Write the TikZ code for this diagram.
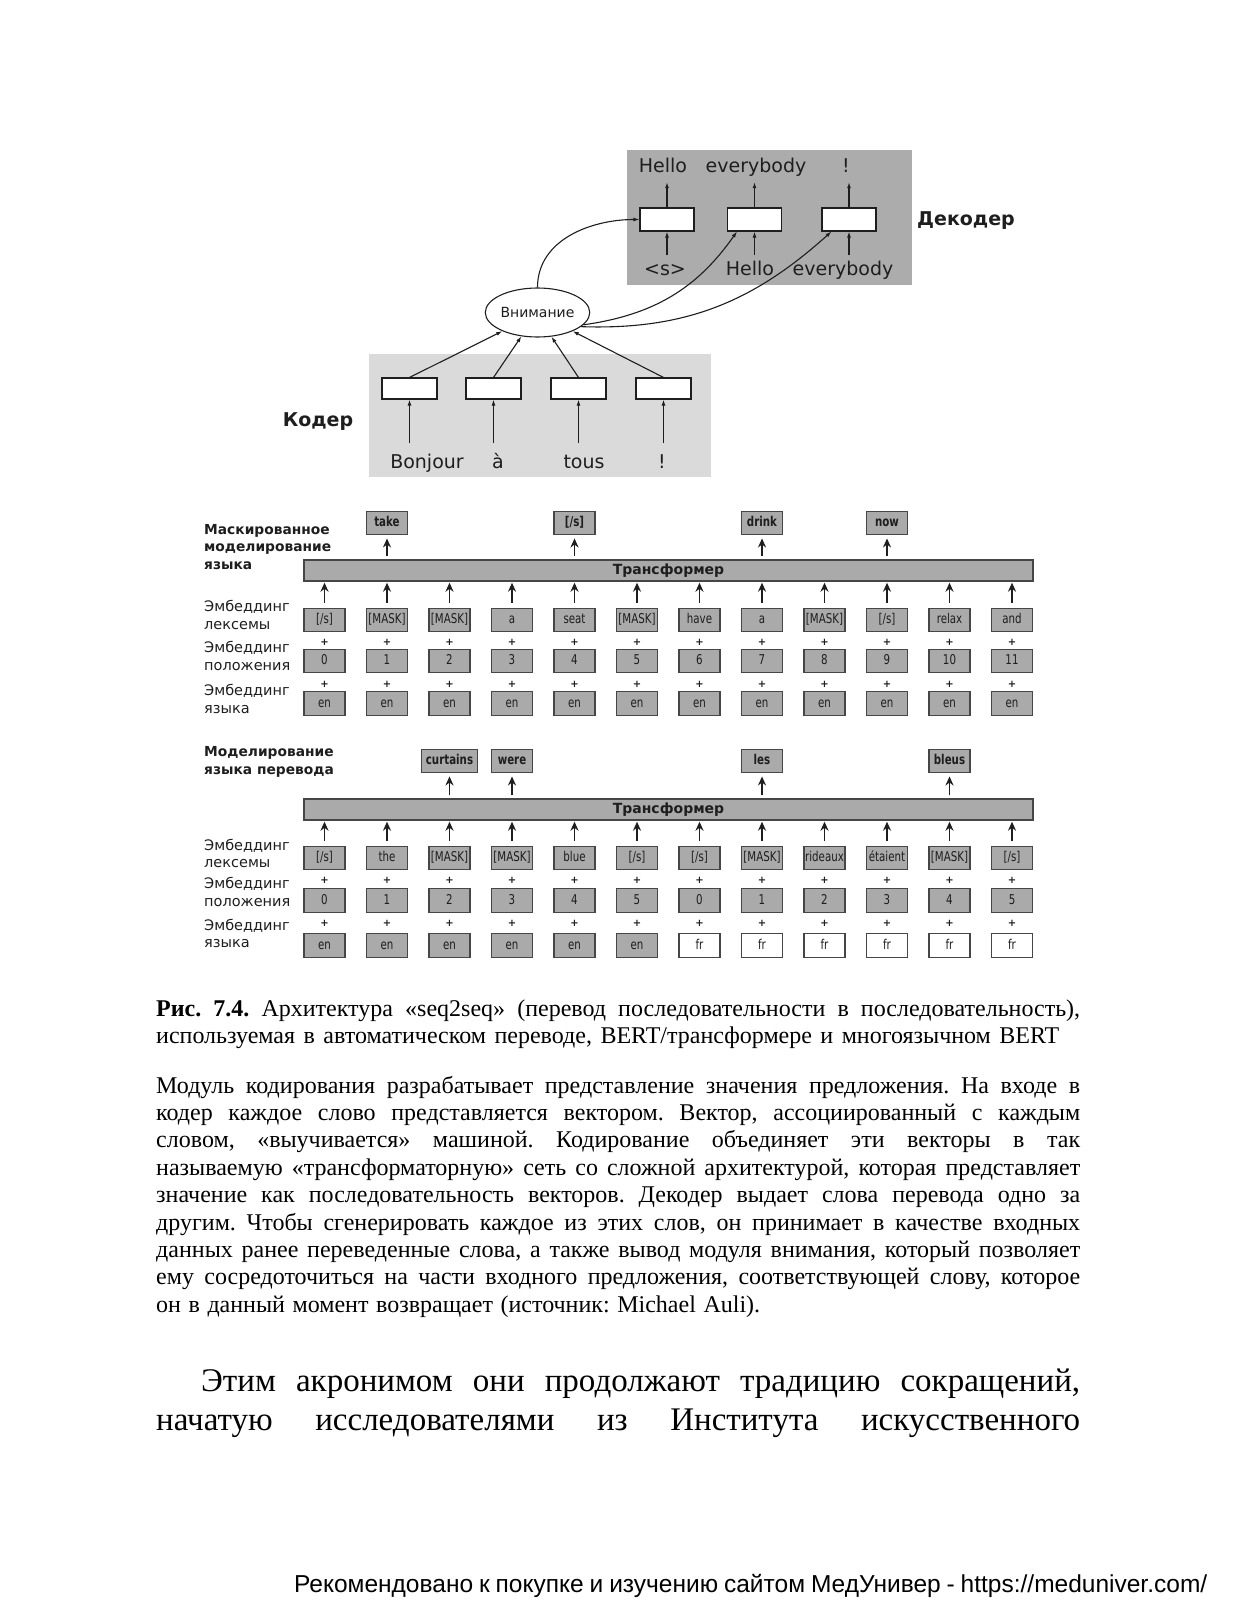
\documentclass[tikz,border=0pt]{standalone}
\usepackage{fontspec}
\setmainfont{Liberation Serif}
\newfontfamily\dvs{DejaVu Sans}
\newfontfamily\dvsc[FakeStretch=0.76]{DejaVu Sans}
\newfontfamily\footfont{Liberation Sans}
\usetikzlibrary{arrows.meta,shapes.geometric,calc}
\definecolor{decgray}{RGB}{172,172,172}
\definecolor{encgray}{RGB}{218,218,218}
\definecolor{boxgray}{RGB}{170,170,170}
\definecolor{boxline}{RGB}{70,70,70}
\definecolor{ink}{RGB}{30,30,30}
\frenchspacing
\begin{document}
\begin{tikzpicture}[x=1pt,y=-1pt,
 dtext/.style={font=\dvs\fontsize{19}{22}\selectfont, text=ink, inner sep=2pt, text height=14pt, text depth=4pt, anchor=base},
 lbl/.style={font=\dvs\fontsize{19}{22}\selectfont\bfseries, text=ink, inner sep=0pt, anchor=base},
 rnn/.style={draw=ink, fill=white, line width=1.1pt, minimum width=54pt, minimum height=23pt, inner sep=0pt},
 thin/.style={draw=ink, line width=1.1pt, -{Latex[length=6pt,width=4pt]}},
 emb/.style={draw=boxline, fill=boxgray, line width=1.4pt, minimum width=41pt, minimum height=23.5pt, inner sep=0pt, text height=9.5pt, text depth=2.5pt, font=\dvsc\fontsize{13.5}{15}\selectfont, text=ink},
 outb/.style={emb, font=\dvsc\fontsize{13.5}{15}\selectfont\bfseries},
 bar/.style={draw=boxline, fill=boxgray, line width=1.4pt, minimum width=729pt, minimum height=21pt, inner sep=0pt, font=\dvs\fontsize{14}{16}\selectfont\bfseries, text=ink},
 arr/.style={draw=ink, line width=1.5pt, -{Stealth[length=9pt,width=8pt]}},
 plus/.style={font=\dvs\fontsize{10}{12}\selectfont\bfseries, inner sep=0pt, text=ink},
 side/.style={font=\dvs\fontsize{14.5}{17.6}\selectfont, align=left, anchor=west, inner sep=0pt, text=ink},
 sideb/.style={side, font=\dvs\fontsize{13.8}{17.6}\selectfont\bfseries},
 body/.style={font=\fontsize{24}{27}\selectfont, anchor=base west, inner sep=0pt, text=black},
 big/.style={font=\fontsize{33}{39}\selectfont, anchor=base west, inner sep=0pt, text=black},
 foot/.style={font=\footfont\fontsize{24.5}{28}\selectfont, anchor=base west, inner sep=0pt, text=black}
]
\useasboundingbox[fill=white] (0,0) rectangle (1237,1600);

% ---------- seq2seq ----------
\node[fill=decgray, minimum width=285pt, minimum height=135pt, inner sep=0pt] (decbg) at (769.5,217.5) {};
\node[fill=encgray, minimum width=342pt, minimum height=123pt, inner sep=0pt] (encbg) at (540,415.5) {};

\node[rnn] (d1) at (667,219.5) {};
\node[rnn] (d2) at (754.5,219.5) {};
\node[rnn] (d3) at (849,219.5) {};
\node[dtext] (o1) at (663,172) {Hello};
\node[dtext] (o2) at (756,172) {everybody};
\node[dtext] (o3) at (846,172) {!};
\node[dtext] (i1) at (665,275.5) {<s>};
\node[dtext] (i2) at (750,275.5) {Hello};
\node[dtext] (i3) at (843,275.5) {everybody};
\node[lbl] (declbl) at (966,225.5) {Декодер};

\foreach \k in {1,2,3}{
 \draw[thin, shorten >=4pt] (d\k.north) -- (d\k.north |- o\k.south);
 \draw[thin, shorten <=4pt] (d\k.south |- i\k.north) -- (d\k.south);
}

\node[rnn, minimum width=55pt, minimum height=21pt] (c1) at (409.5,388.5) {};
\node[rnn, minimum width=55pt, minimum height=21pt] (c2) at (493.5,388.5) {};
\node[rnn, minimum width=55pt, minimum height=21pt] (c3) at (578.5,388.5) {};
\node[rnn, minimum width=55pt, minimum height=21pt] (c4) at (663.5,388.5) {};
\node[dtext] (w1) at (427,468.5) {Bonjour};
\node[dtext] (w2) at (498,468.5) {à};
\node[dtext] (w3) at (584,468.5) {tous};
\node[dtext] (w4) at (662,468.5) {!};
\node[lbl] (enclbl) at (318,426.5) {Кодер};
\foreach \k in {1,2,3,4}{
 \draw[thin, shorten <=9pt] (c\k.south |- w\k.north) -- (c\k.south);
}

\node[ellipse, draw=ink, fill=white, line width=1.1pt, minimum width=95pt, minimum height=49pt, inner sep=0pt, font=\dvs\fontsize{14}{16}\selectfont, text=ink] (att) at (537.5,312.5) {Внимание};
\draw[thin] (c1.north) -- (att.208);
\draw[thin] (c2.north) -- (att.236);
\draw[thin] (c3.north) -- (att.300);
\draw[thin] (c4.north) -- (att.332);

\coordinate (d2in) at ([xshift=10pt]d2.south west);
\coordinate (d3in) at ([xshift=10pt]d3.south west);
\draw[thin] (att.north) to[out=90, in=180] (d1.west);
\draw[thin] (att.-15) to[out=8, in=235] (d2in);
\draw[thin] (att.-18) to[out=-2, in=222] (d3in);

% ---------- MLM ----------
\node[sideb] (mlbl) at (204,547) {Маскированное\\моделирование\\языка};
\node[side] (mlex) at (204,615) {Эмбеддинг\\лексемы};
\node[side] (mpos) at (204,656) {Эмбеддинг\\положения};
\node[side] (mlng) at (204,699) {Эмбеддинг\\языка};
\node[bar] (m-bar) at (668.5,570.5) {Трансформер};

\foreach \lab [count=\i from 0] in {{[/s]},{[MASK]},{[MASK]},a,seat,{[MASK]},have,a,{[MASK]},{[/s]},relax,and}{
 \pgfmathsetmacro\xx{324.5+62.5*\i}
 \node[emb] (m-t-\i) at (\xx,620) {\lab};
 \node[emb] (m-p-\i) at (\xx,661) {\i};
 \node[emb] (m-l-\i) at (\xx,703.5) {en};
 \node[plus] (m-a-\i) at (\xx,642) {+};
 \node[plus] (m-b-\i) at (\xx,684) {+};
 \draw[arr, shorten <=5pt, shorten >=1pt] (m-t-\i.north) -- (m-t-\i.north |- m-bar.south);
}
\node[outb] (m-o1) at (387,523) {take};
\node[outb] (m-o4) at (574.5,523) {[/s]};
\node[outb] (m-o7) at (762,523) {drink};
\node[outb] (m-o9) at (887,523) {now};
\foreach \k in {1,4,7,9}{
 \draw[arr, shorten <=3pt, shorten >=3pt] (m-bar.north -| m-o\k.south) -- (m-o\k.south);
}

% ---------- TLM ----------
\node[sideb] (tlbl) at (204,762) {Моделирование\\языка перевода};
\node[side] (tlex) at (204,853.5) {Эмбеддинг\\лексемы};
\node[side] (tpos) at (204,892) {Эмбеддинг\\положения};
\node[side] (tlng) at (204,933.5) {Эмбеддинг\\языка};
\node[bar] (t-bar) at (668.5,809.5) {Трансформер};

\foreach \lab [count=\i from 0] in {{[/s]},the,{[MASK]},{[MASK]},blue,{[/s]},{[/s]},{[MASK]},rideaux,étaient,{[MASK]},{[/s]}}{
 \pgfmathsetmacro\xx{324.5+62.5*\i}
 \pgfmathtruncatemacro\pp{mod(\i,6)}
 \ifnum\i<6 \def\fc{boxgray}\def\lng{en}\else\def\fc{white}\def\lng{fr}\fi
 \node[emb] (t-t-\i) at (\xx,858) {\lab};
 \node[emb] (t-p-\i) at (\xx,900.5) {\pp};
 \node[emb, fill=\fc] (t-l-\i) at (\xx,945.5) {\lng};
 \node[plus] (t-a-\i) at (\xx,880) {+};
 \node[plus] (t-b-\i) at (\xx,923.5) {+};
 \draw[arr, shorten <=5pt, shorten >=1pt] (t-t-\i.north) -- (t-t-\i.north |- t-bar.south);
}
\node[outb, minimum width=56pt] (t-o2) at (449.5,761) {curtains};
\node[outb] (t-o3) at (512,761) {were};
\node[outb] (t-o7) at (762,761) {les};
\node[outb] (t-o10) at (949.5,761) {bleus};
\foreach \k in {2,3,7,10}{
 \draw[arr, shorten <=3pt, shorten >=3pt] (t-bar.north -| t-o\k.south) -- (t-o\k.south);
}

% ---------- caption & text ----------
\node[body] (cap1) at (156,1016) {\makebox[924pt][s]{\textbf{Рис. 7.4.} Архитектура «seq2seq» (перевод последовательности в последовательность),}};
\node[body] (cap2) at (156,1043) {\makebox[903pt][s]{используемая в автоматическом переводе, BERT/трансформере и многоязычном BERT}};

\node[body] (b1) at (156,1093) {\makebox[924pt][s]{Модуль кодирования разрабатывает представление значения предложения. На входе в}};
\node[body] (b2) at (156,1120.4) {\makebox[924pt][s]{кодер каждое слово представляется вектором. Вектор, ассоциированный с каждым}};
\node[body] (b3) at (156,1147.8) {\makebox[924pt][s]{словом, «выучивается» машиной. Кодирование объединяет эти векторы в так}};
\node[body] (b4) at (156,1175.2) {\makebox[924pt][s]{называемую «трансформаторную» сеть со сложной архитектурой, которая представляет}};
\node[body] (b5) at (156,1202.6) {\makebox[924pt][s]{значение как последовательность векторов. Декодер выдает слова перевода одно за}};
\node[body] (b6) at (156,1230) {\makebox[924pt][s]{другим. Чтобы сгенерировать каждое из этих слов, он принимает в качестве входных}};
\node[body] (b7) at (156,1257.4) {\makebox[924pt][s]{данных ранее переведенные слова, а также вывод модуля внимания, который позволяет}};
\node[body] (b8) at (156,1284.8) {\makebox[924pt][s]{ему сосредоточиться на части входного предложения, соответствующей слову, которое}};
\node[body] (b9) at (156,1312.2) {\makebox[604pt][s]{он в данный момент возвращает (источник: Michael Auli).}};

\node[big] (g1) at (201,1391) {\makebox[879pt][s]{Этим акронимом они продолжают традицию сокращений,}};
\node[big] (g2) at (156,1430) {\makebox[924pt][s]{начатую исследователями из Института искусственного}};

\node[foot] (ft) at (294,1592) {\makebox[913pt][s]{Рекомендовано к покупке и изучению сайтом МедУнивер - https://meduniver.com/}};
\end{tikzpicture}
\end{document}
